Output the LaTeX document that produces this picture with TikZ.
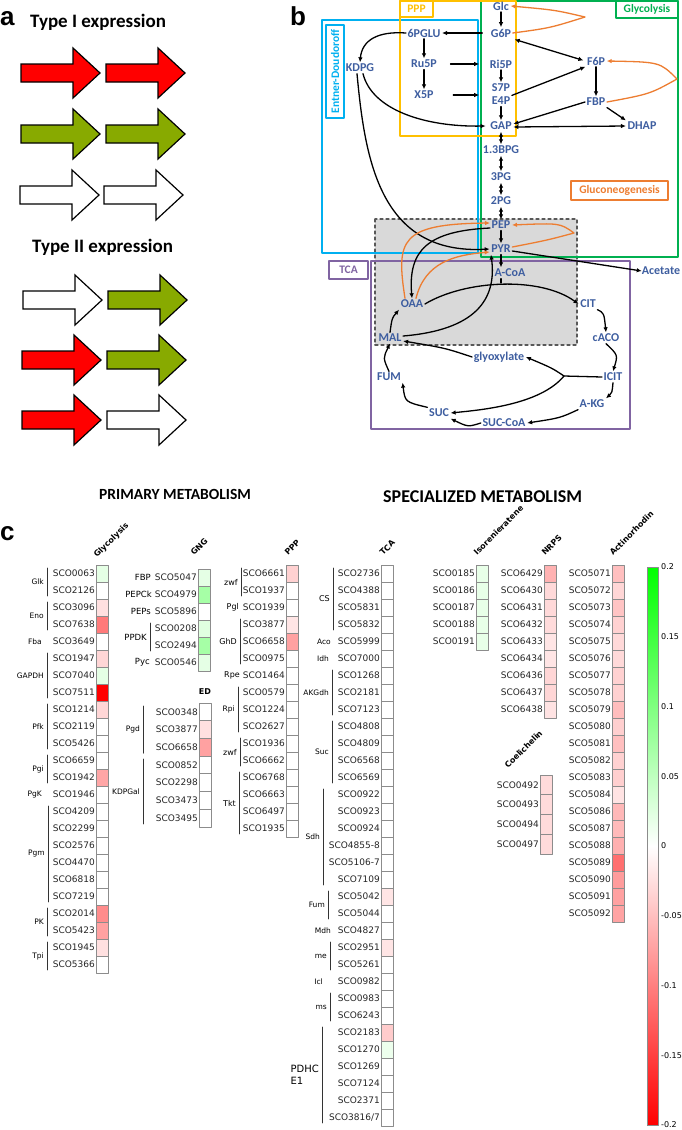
\documentclass[tikz,border=0pt]{standalone}
\usepackage{fontspec}
\setmainfont{DejaVu Sans}
\newfontfamily\carlito{Carlito}
\newfontfamily\arialfont{Liberation Sans}
\usetikzlibrary{arrows.meta,calc}

\definecolor{metblue}{RGB}{62,94,160}
\definecolor{glycocol}{RGB}{0,176,80}
\definecolor{pppcol}{RGB}{255,192,0}
\definecolor{edcol}{RGB}{0,176,240}
\definecolor{tcacol}{RGB}{128,100,162}
\definecolor{gngcol}{RGB}{237,125,49}
\definecolor{genegreen}{RGB}{136,170,0}
\definecolor{shadegray}{RGB}{217,217,217}
\definecolor{cellgray}{RGB}{140,140,140}

% gene arrow: tail x, centre y, fill
\newcommand{\genearrow}[3]{%
	\filldraw[fill=#3, draw=black, line width=1.2pt, line join=miter]
	(#1,#2-9) -- ++(52,0) -- ++(0,-16) -- ++(27,25) -- ++(-27,25) -- ++(0,-16) -- ++(-52,0) -- cycle;
}
% heat map column: name, cell x, top y, row pitch, list gene/colour
\newcommand{\heatcol}[5]{%
	\foreach \gene/\hue [count=\i] in {#5} {
		\filldraw[fill=\hue, draw=cellgray, line width=0.8pt] (#2,{#3+(\i-1)*#4}) rectangle ++(12,#4);
		\node[genelbl, anchor=east] (#1\i) at (#2-1,{#3+(\i-0.5)*#4}) {SCO\gene};
	}
}
% enzyme group with bar: [style] bar x, top, pitch, first row, last row, label, name
\newcommand{\genegrp}[8][]{%
	\draw[grpbar] (#2,{#3+#4*(#5-1)+3}) -- (#2,{#3+#4*#6-3});
	\node[grplbl, #1, anchor=east] (#8) at (#2-3,{#3+#4*(#5+#6-1)/2}) {#7};
}
% enzyme with a single gene: [style] x, top, pitch, row, label, name
\newcommand{\genesolo}[7][]{%
	\node[grplbl, #1, anchor=east] (#7) at (#2,{#3+#4*(#5-0.5)}) {#6};
}

\begin{document}
\begin{tikzpicture}[x=1pt, y=-1pt, >=Latex, line cap=round, line join=round,
	met/.style={text=metblue, font=\carlito\bfseries\fontsize{12}{13}\selectfont, inner sep=1.5pt},
	rx/.style={-{Latex[length=5pt,width=4.5pt]}, line width=1.3pt},
	dx/.style={{Latex[length=5pt,width=4.5pt]}-{Latex[length=5pt,width=4.5pt]}, line width=1.3pt},
	gx/.style={rx, draw=gngcol},
	pathbox/.style={draw=#1, text=#1, line width=1.5pt, inner sep=0pt, font=\carlito\bfseries\fontsize{11.5}{12}\selectfont},
	panel/.style={font=\arialfont\bfseries\fontsize{26}{28}\selectfont, inner sep=0pt},
	title/.style={font=\carlito\bfseries\fontsize{19}{21}\selectfont, inner sep=0pt},
	genelbl/.style={font=\fontsize{9}{10}\selectfont, text=black!85, inner sep=0pt},
	grplbl/.style={font=\fontsize{7.5}{8.5}\selectfont, inner sep=0pt, align=left},
	bigger/.style={font=\fontsize{8.5}{9.5}\selectfont},
	midsize/.style={font=\fontsize{8}{9}\selectfont},
	grpbar/.style={line width=0.9pt, black!80},
	hdr/.style={font=\bfseries\fontsize{8}{9}\selectfont, inner sep=0pt},
	cblbl/.style={font=\fontsize{8}{9}\selectfont, inner sep=0pt}]
	
	\useasboundingbox (0,0) rectangle (682,1130);
	\fill[white] (0,0) rectangle (682,1130);
	
	% ---------------- panel a
	\node[panel, anchor=base west] (pa) at (0,25) {a};
	\node[title, anchor=base west] (type1) at (30,27) {Type I expression};
	\genearrow{21}{73}{red}
	\genearrow{106}{73}{red}
	\genearrow{21}{134}{genegreen}
	\genearrow{106}{134}{genegreen}
	\genearrow{20}{195}{white}
	\genearrow{104}{195}{white}
	\node[title, anchor=base west] (type2) at (32,252) {Type II expression};
	\genearrow{23}{300}{white}
	\genearrow{108}{300}{genegreen}
	\genearrow{22}{360}{red}
	\genearrow{107}{360}{genegreen}
	\genearrow{22}{420}{red}
	\genearrow{107}{420}{white}
	
	\node[font=\carlito\bfseries\fontsize{15.5}{17}\selectfont, inner sep=0pt, anchor=base west] (prim) at (99,499) {PRIMARY METABOLISM};
	\node[font=\carlito\bfseries\fontsize{18}{20}\selectfont, inner sep=0pt, anchor=base west] (spec) at (383,502) {SPECIALIZED METABOLISM};
	
	% ---------------- panel b
	\node[panel, anchor=base west] (pb) at (290,25) {b};
	
	% shaded anaplerotic node
	\filldraw[fill=shadegray, draw=black!65, dashed, line width=1.3pt] (375,219) rectangle (577,345);
	% pathway frames
	\draw[glycocol, line width=1.5pt] (481,1) rectangle (678,257);
	\draw[edcol, line width=1.5pt] (322,20) rectangle (478,253);
	\draw[pppcol, line width=1.5pt] (400,1) rectangle (516,136);
	\draw[tcacol, line width=1.5pt] (371,261) rectangle (630,429);
	
	\node[pathbox=pppcol, minimum width=33pt, minimum height=16pt] (lppp) at (416.5,9) {PPP};
	\node[pathbox=glycocol, minimum width=62pt, minimum height=17pt] (lgly) at (647,9.5) {Glycolysis};
	\node[pathbox=gngcol, minimum width=97pt, minimum height=19pt] (lgng) at (619.5,190.5) {Gluconeogenesis};
	\node[pathbox=tcacol, minimum width=39pt, minimum height=18pt] (ltca) at (348.5,270) {TCA};
	\node[pathbox=edcol, rotate=90, minimum width=93pt, minimum height=18pt] (led) at (335,71.5) {Entner-Doudoroff};
	
	% metabolites
	\node[met] (glc) at (501,6) {Glc};
	\node[met] (g6p) at (501,33) {G6P};
	\node[met] (pglu) at (424,33) {6PGLU};
	\node[met] (kdpg) at (360,68) {KDPG};
	\node[met] (ru5p) at (424,64) {Ru5P};
	\node[met] (x5p) at (424,95) {X5P};
	\node[met] (ri5p) at (501,64) {Ri5P};
	\node[met] (s7p) at (501,88) {S7P};
	\node[met] (e4p) at (501,101) {E4P};
	\node[met] (gap) at (501,126) {GAP};
	\node[met] (f6p) at (596,61) {F6P};
	\node[met] (fbp) at (596,102) {FBP};
	\node[met] (dhap) at (642,126) {DHAP};
	\node[met] (bpg) at (501,150) {1.3BPG};
	\node[met] (pg3) at (501,177) {3PG};
	\node[met] (pg2) at (501,201) {2PG};
	\node[met] (pep) at (501,225) {PEP};
	\node[met] (pyr) at (501,249) {PYR};
	\node[met] (acoa) at (510,273) {A-CoA};
	\node[met, inner sep=0pt] (acetate) at (661,271) {Acetate};
	\node[met] (oaa) at (412,304) {OAA};
	\node[met] (cit) at (588,304) {CIT};
	\node[met] (mal) at (390,338) {MAL};
	\node[met] (caco) at (606,338) {cACO};
	\node[met] (glyox) at (499,357) {glyoxylate};
	\node[met] (fum) at (389,377) {FUM};
	\node[met] (icit) at (613,377) {ICIT};
	\node[met] (akg) at (592,404) {A-KG};
	\node[met] (suc) at (439,413) {SUC};
	\node[met] (succoa) at (504,423) {SUC-CoA};
	
	\coordinate (join) at (501,283);
	\coordinate (split) at (564,376);
	\coordinate (gngtop) at (585,17);
	\coordinate (gngmid) at (677,79);
	\coordinate (gngbot) at (574,233);
	
	% upper glycolysis and PPP
	\draw[rx] (glc) -- (g6p);
	\draw[rx, shorten <=7pt] (g6p) -- (pglu);
	\draw[rx] (pglu.west) .. controls (378,31) and (362,40) .. (kdpg.north);
	\draw[rx] (pglu) -- (ru5p);
	\draw[rx] (ru5p) -- (x5p);
	\draw[rx, shorten <=12pt, shorten >=9pt] (ru5p) -- (ri5p);
	\draw[rx, shorten <=18pt, shorten >=9pt] (x5p.east) -- (x5p.east -| ri5p.west);
	\draw[rx] (ri5p) -- (s7p);
	\draw[rx] (e4p) -- (gap);
	\draw[dx, shorten <=2pt, shorten >=2pt] (g6p.south east) -- (f6p.west);
	\draw[rx] (e4p.north east) -- (f6p.south west);
	\draw[rx] (f6p) -- (fbp);
	\draw[rx] (fbp.west) -- ([yshift=2pt]gap.east);
	\draw[rx] (fbp.south east) -- (dhap.north west);
	\draw[dx] ([yshift=-1pt]gap.east) -- (dhap.west);
	
	% Entner-Doudoroff
	\draw[rx] ([xshift=3pt]kdpg.south) .. controls (372,110) and (425,127) .. ([xshift=-3pt]gap.west);
	\draw[rx] ([xshift=-3pt]kdpg.south) .. controls (365,160) and (380,255) .. (pyr.west);
	
	% lower glycolysis
	\draw[dx] (gap) -- (bpg);
	\draw[dx] (bpg) -- (pg3);
	\draw[dx] (pg3) -- (pg2);
	\draw[dx] (pg2) -- (pep);
	\draw[rx] (pep) -- (pyr);
	\draw[rx] (pyr.south) -- (pyr.south |- acoa.north);
	\draw[rx] ([yshift=-2pt]pyr.east) -- (acetate.west);
	
	% anaplerotic reactions
	\draw[rx] (oaa.east) .. controls (465,280) and (540,276) .. (cit.west);
	\draw[line width=1.3pt] (acoa.south -| join) -- (join);
	\draw[rx] ([yshift=-3pt]pep.west) .. controls (428,231) and (408,250) .. (oaa.north);
	\draw[rx] ([yshift=2pt]mal.east) .. controls (475,330) and (497,300) .. ([xshift=-10pt]pyr.south);
	
	% gluconeogenesis
	\draw[gx] (g6p.east) .. controls (550,28) .. (gngtop) .. controls (555,10) .. (glc.east);
	\draw[gx] (fbp.east) .. controls (650,94) .. (gngmid) .. controls (660,62) .. (f6p.east);
	\draw[gx] ([yshift=2pt]pyr.east) .. controls (548,240) .. (gngbot) .. controls (560,223) .. (pep.east);
	\draw[gx] ([xshift=-7pt]oaa.north) .. controls (396,240) and (400,224) .. ([yshift=2pt]pep.west);
	\draw[gx] ([xshift=4pt]oaa.north) .. controls (425,262) and (455,255) .. ([yshift=-3pt]pyr.west);
	
	% TCA cycle and glyoxylate shunt
	\draw[rx] (cit.south east) .. controls (604,313) .. (caco.north);
	\draw[rx] (caco.south) .. controls (618,355) .. (icit.north);
	\draw[rx] (icit.south) .. controls (612,393) .. (akg.north east);
	\draw[rx] (akg.south west) .. controls (560,418) .. (succoa.east);
	\draw[rx] (succoa.west) .. controls (468,427) .. (suc.south east);
	\draw[rx] (suc.north west) .. controls (405,402) .. (fum.south east);
	\draw[rx] (fum.north) .. controls (383,358) .. (mal.south);
	\draw[rx] (mal.north) .. controls (392,318) .. (oaa.south west);
	\draw[line width=1.3pt] (icit.west) -- (split);
	\draw[rx] (split) .. controls (552,368) .. (glyox.east);
	\draw[rx] (split) .. controls (540,405) and (480,410) .. (suc.east);
	\draw[rx] (glyox.west) .. controls (445,348) .. ([yshift=-3pt]mal.east);
	
	% ---------------- panel c
	\node[panel, anchor=base west] (pc) at (0,540) {c};
	
	% Glycolysis
	\node[hdr, rotate=45, anchor=base west] (hgly) at (97,558) {Glycolysis};
	\heatcol{gly}{96}{565}{17}{0063/green!10, 2126/white, 3096/red!12, 7638/red!52, 3649/white, 1947/red!16, 7040/green!10, 7511/red, 1214/red!16, 2119/white, 5426/white, 6659/white, 1942/red!35, 1946/white, 4209/white, 2299/white, 2576/white, 4470/white, 6818/white, 7219/white, 2014/red!45, 5423/red!37, 1945/red!12, 5366/white}
	\genegrp{47}{565}{17}{1}{2}{Glk}{gglk}
	\genegrp{47}{565}{17}{3}{4}{Eno}{geno}
	\genesolo{42}{565}{17}{5}{Fba}{gfba}
	\genegrp{47}{565}{17}{6}{8}{GAPDH}{ggapdh}
	\genegrp{47}{565}{17}{9}{11}{Pfk}{gpfk}
	\genegrp{47}{565}{17}{12}{13}{Pgi}{gpgi}
	\genesolo{42}{565}{17}{14}{PgK}{gpgk}
	\genegrp{48}{565}{17}{15}{20}{Pgm}{gpgm}
	\genegrp{47}{565}{17}{21}{22}{PK}{gpk}
	\genegrp{47}{565}{17}{23}{24}{Tpi}{gtpi}
	
	% GNG
	\node[hdr, rotate=45, anchor=base west] (hgng) at (194,556) {GNG};
	\heatcol{gng}{198}{569}{17}{5047/green!10, 4979/green!35, 5896/white, 0208/green!12, 2494/green!35, 0546/green!10}
	\genesolo[bigger]{151}{569}{17}{1}{FBP}{nfbp}
	\genesolo[bigger]{152}{569}{17}{2}{PEPCk}{npepck}
	\genesolo[bigger]{151}{569}{17}{3}{PEPs}{npeps}
	\genegrp[bigger]{150}{569}{17}{4}{5}{PPDK}{nppdk}
	\genesolo[bigger]{150}{569}{17}{6}{Pyc}{npyc}
	
	% ED
	\node[hdr, anchor=base] (hed) at (205,694) {ED};
	\heatcol{ed}{199}{703}{17.7}{0348/white, 3877/red!12, 6658/red!37, 0852/white, 2298/white, 3473/white, 3495/white}
	\genegrp{143}{703}{17.7}{1}{3}{Pgd}{epgd}
	\genegrp{143}{703}{17.7}{4}{7}{KDPGal}{ekdpgal}
	
	% PPP
	\node[hdr, rotate=45, anchor=base west] (hppp) at (288,556) {PPP};
	\heatcol{ppp}{286}{565}{17}{6661/red!18, 1937/white, 1939/white, 3877/red!10, 6658/red!37, 0975/white, 1464/white, 0579/white, 1224/white, 2627/white, 1936/white, 6662/white, 6768/white, 6663/white, 6497/white, 1935/white}
	\genegrp[midsize]{241}{565}{17}{1}{2}{zwf}{pzwf}
	\genesolo[midsize]{239}{565}{17}{3}{Pgl}{ppgl}
	\genegrp[midsize]{240}{565}{17}{4}{6}{GhD}{pghd}
	\genesolo[midsize]{240}{565}{17}{7}{Rpe}{prpe}
	\genegrp{238}{565}{17}{8}{10}{Rpi}{prpi}
	\genegrp[midsize]{240}{565}{17}{11}{12}{zwf}{pzwfb}
	\genegrp[midsize]{239}{565}{17}{13}{16}{Tkt}{ptkt}
	
	% TCA
	\node[hdr, rotate=45, anchor=base west] (htca) at (383,556) {TCA};
	\heatcol{tca}{381}{565}{17}{2736/white, 4388/white, 5831/white, 5832/white, 5999/white, 7000/white, 1268/white, 2181/white, 7123/white, 4808/white, 4809/white, 6568/white, 6569/white, 0922/white, 0923/white, 0924/white, 4855-8/white, 5106-7/white, 7109/white, 5042/red!10, 5044/white, 4827/white, 2951/red!10, 5261/white, 0982/white, 0983/white, 6243/white, 2183/red!20, 1270/green!7, 1269/white, 7124/white, 2371/white, {3816/7}/white}
	\genegrp[midsize]{333}{565}{17}{1}{4}{CS}{tcs}
	\genesolo{331}{565}{17}{5}{Aco}{taco}
	\genesolo{329}{565}{17}{6}{Idh}{tidh}
	\genegrp{332}{565}{17}{7}{9}{AKGdh}{takgdh}
	\genegrp{332}{565}{17}{10}{13}{Suc}{tsuc}
	\genegrp{323}{565}{17}{14}{19}{Sdh}{tsdh}
	\genegrp{328}{565}{17}{20}{21}{Fum}{tfum}
	\genesolo{331}{565}{17}{22}{Mdh}{tmdh}
	\genegrp{330}{565}{17}{23}{24}{me}{tme}
	\genesolo{323}{565}{17}{25}{Icl}{ticl}
	\genegrp{330}{565}{17}{26}{27}{ms}{tms}
	\genegrp[font=\fontsize{10}{12}\selectfont]{322}{565}{17}{28}{33}{PDHC\\E1}{tpdhc}
	
	% Isorenieratene
	\node[hdr, rotate=45, anchor=base west] (hiso) at (477,556) {Isorenieratene};
	\heatcol{iso}{476}{565}{17}{0185/green!9, 0186/green!9, 0187/green!9, 0188/green!9, 0191/green!9}
	
	% NRPS
	\node[hdr, rotate=45, anchor=base west] (hnrps) at (545,556) {NRPS};
	\heatcol{nrps}{544}{565}{17}{6429/red!30, 6430/red!15, 6431/red!15, 6432/red!14, 6433/red!10, 6434/red!10, 6436/red!16, 6437/red!16, 6438/red!11}
	
	% Coelichelin
	\node[hdr, rotate=45, anchor=base west] (hcoe) at (508,769) {Coelichelin};
	\heatcol{coe}{540}{775}{19.75}{0492/red!14, 0493/red!14, 0494/red!14, 0497/red!14}
	
	% Actinorhodin
	\node[hdr, rotate=45, anchor=base west] (hact) at (613,556) {Actinorhodin};
	\heatcol{act}{612}{565}{17}{5071/red!25, 5072/red!16, 5073/red!23, 5074/red!18, 5075/red!15, 5076/red!15, 5077/red!18, 5078/red!18, 5079/red!26, 5080/red!19, 5081/red!25, 5082/red!18, 5083/red!19, 5084/red!11, 5086/red!28, 5087/red!27, 5088/red!31, 5089/red!56, 5090/red!39, 5091/red!37, 5092/red!36}
	
	% colour bar
	\shade[top color=green, bottom color=white] (647,567) rectangle (658,846);
	\shade[top color=white, bottom color=red] (647,846) rectangle (658,1125);
	\draw[cellgray, line width=0.8pt] (647,567) rectangle (658,1125);
	\foreach \v [count=\k from 0] in {0.2,0.15,0.1,0.05,0,-0.05,-0.1,-0.15,-0.2}
	\node[cblbl, anchor=west] (cb\k) at (661,{567+\k*69.75}) {\v};
	
\end{tikzpicture}
\end{document}
